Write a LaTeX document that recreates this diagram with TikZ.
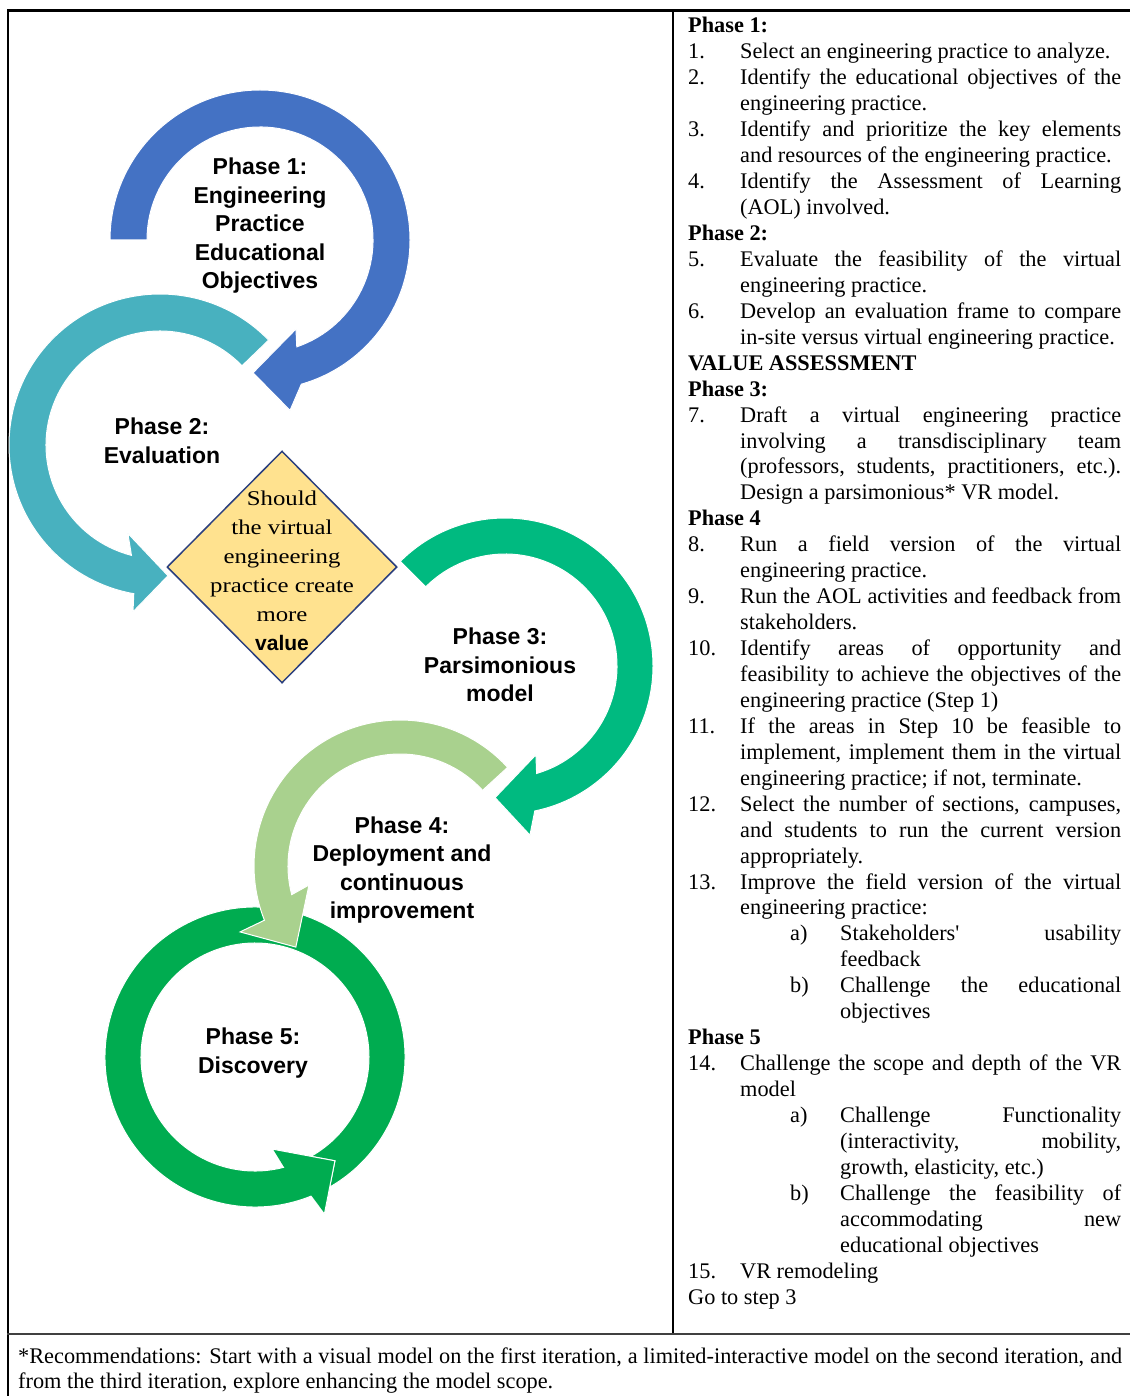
\documentclass[tikz,border=0pt]{standalone}
\usepackage{fontspec}
\setmainfont{Liberation Serif}
\newfontfamily\lblfont{Liberation Sans}
\newfontfamily\diafont[FakeStretch=1.18]{Liberation Serif}
\usetikzlibrary{shapes.geometric}
\definecolor{cBlue}{HTML}{4472C4}
\definecolor{cTeal}{HTML}{48B1BF}
\definecolor{cGreenM}{HTML}{00BA80}
\definecolor{cGreenL}{HTML}{A9D18E}
\definecolor{cGreenD}{HTML}{00AC50}
\definecolor{cDiaFill}{HTML}{FFE28F}
\definecolor{cDiaLine}{HTML}{2B3F7E}
\newcommand\stephead[1]{\par\noindent\textbf{#1}}
\newcommand\stepitem[2]{\par\hangindent=52pt\hangafter=1\noindent\makebox[52pt][l]{#1}#2}
\newcommand\stepsub[2]{\par\hangindent=152pt\hangafter=1\noindent\hspace*{102pt}\makebox[50pt][l]{#1}#2}
\tikzset{
  band/.style={fill=#1, draw=white, line width=1pt, line join=miter},
  phaselabel/.style={font=\lblfont\bfseries\fontsize{23}{28.5}\selectfont, align=center, inner sep=0pt},
  steptext/.style={anchor=base west, inner sep=0pt, text width=#1, align=justify,
    font=\fontsize{22.3}{25.94}\selectfont},
  frameline/.style={line width=#1, draw=black},
}
\begin{document}
\begin{tikzpicture}[x=1pt,y=1pt]
\useasboundingbox (0,0) rectangle (1130,-1396);
\fill[white] (0,0) rectangle (1130,-1396);

% frame
\draw[frameline=2.7pt] (7,-10.5) -- (1130,-10.5);
\draw[frameline=2pt] (8,-10) -- (8,-1396);
\draw[frameline=1.5pt] (673,-10) -- (673,-1334);
\draw[frameline=2pt, draw=black!75] (7,-1334) -- (1130,-1334);

% Phase 2 arrow (teal)
\begin{scope}[shift={(160,-445)}]
\path[band=cTeal] (44:151) arc[start angle=44, end angle=260, radius=151]
  -- (260.8:169) -- (273.5:131) -- (250:94) -- (255.5:114)
  arc[start angle=255.5, end angle=44, radius=114] -- cycle;
\end{scope}
% Phase 1 arrow (blue)
\begin{scope}[shift={(260,-240)}]
\path[band=cBlue] (180:150) arc[start angle=180, end angle=-74, radius=150]
  -- (-80:173) -- (-93:133) -- (-68:96) -- (-71:113)
  arc[start angle=-71, end angle=180, radius=113] -- cycle;
\end{scope}
% Phase 3 arrow (green)
\begin{scope}[shift={(505,-666)}]
\path[band=cGreenM] (135:148) arc[start angle=135, end angle=-78.4, radius=148]
  -- (-81.6:171) -- (-94.3:132) -- (-70.8:94) -- (-73.6:112)
  arc[start angle=-73.6, end angle=135, radius=112] -- cycle;
\end{scope}
% Phase 5 ring (dark green)
\begin{scope}[shift={(255,-1057)}]
\path[band=cGreenD] (-62:150) arc[start angle=-62, end angle=292.2, radius=150]
  -- (294:171) -- (307.6:131) -- (281.1:94) -- (284.8:114)
  arc[start angle=284.8, end angle=-62, radius=114] -- cycle;
\path[fill=cGreenD] (292.2:150) -- (294:171) -- (307.6:131) -- (281.1:94) -- (284.8:114) -- cycle;
\draw[white, line width=1pt, line join=miter] (294:171) -- (307.6:131) -- (281.1:94);
\end{scope}
% Phase 4 arrow (light green)
\begin{scope}[shift={(400,-866)}]
\path[band=cGreenL] (42.5:146) arc[start angle=42.5, end angle=201.8, radius=146]
  -- (202.4:173) -- (217.9:132) -- (191.8:93) -- (194.8:112)
  arc[start angle=194.8, end angle=42.5, radius=112] -- cycle;
\end{scope}

% decision diamond
\node[diamond, draw=cDiaLine, fill=cDiaFill, line width=1.5pt, minimum width=230pt,
  minimum height=232pt, inner sep=0pt] (dec) at (282,-567) {};
\node[font=\diafont\fontsize{21}{29}\selectfont, align=center, inner sep=0pt] (dtext) at (282,-571)
  {Should\\the virtual\\engineering\\practice create\\more\\{\lblfont\bfseries value}};

% phase labels
\node[phaselabel] (lab1) at (260,-226) {Phase 1:\\Engineering\\Practice\\Educational\\Objectives};
\node[phaselabel] (lab2) at (162,-441) {Phase 2:\\Evaluation};
\node[phaselabel] (lab3) at (500,-665) {Phase 3:\\Parsimonious\\model};
\node[phaselabel] (lab4) at (402,-870) {Phase 4:\\Deployment and\\continuous\\improvement};
\node[phaselabel] (lab5) at (253,-1053) {Phase 5:\\Discovery};

% steps column
\node[steptext=433pt] (steps) at (688,-33) {%
\parskip=0pt\tolerance=10000\hyphenpenalty=10000\exhyphenpenalty=10000%
\noindent\textbf{Phase 1:}
\stepitem{1.}{Select an engineering practice to analyze.}
\stepitem{2.}{Identify the educational objectives of the\linebreak engineering practice.}
\stepitem{3.}{Identify and prioritize the key elements\linebreak and resources of the engineering practice.}
\stepitem{4.}{Identify the Assessment of Learning\linebreak (AOL) involved.}
\stephead{Phase 2:}
\stepitem{5.}{Evaluate the feasibility of the virtual\linebreak engineering practice.}
\stepitem{6.}{Develop an evaluation frame to compare\linebreak in-site versus virtual engineering practice.}
\stephead{VALUE ASSESSMENT}
\stephead{Phase 3:}
\stepitem{7.}{Draft a virtual engineering practice\linebreak involving a transdisciplinary team\linebreak (professors, students, practitioners, etc.).\linebreak Design a parsimonious* VR model.}
\stephead{Phase 4}
\stepitem{8.}{Run a field version of the virtual\linebreak engineering practice.}
\stepitem{9.}{Run the AOL activities and feedback from\linebreak stakeholders.}
\stepitem{10.}{Identify areas of opportunity and\linebreak feasibility to achieve the objectives of the\linebreak engineering practice (Step 1)}
\stepitem{11.}{If the areas in Step 10 be feasible to\linebreak implement, implement them in the virtual\linebreak engineering practice; if not, terminate.}
\stepitem{12.}{Select the number of sections, campuses,\linebreak and students to run the current version\linebreak appropriately.}
\stepitem{13.}{Improve the field version of the virtual\linebreak engineering practice:}
\stepsub{a)}{Stakeholders\textquotesingle\ usability\linebreak feedback}
\stepsub{b)}{Challenge the educational\linebreak objectives}
\stephead{Phase 5}
\stepitem{14.}{Challenge the scope and depth of the VR\linebreak model}
\stepsub{a)}{Challenge Functionality\linebreak (interactivity, mobility,\linebreak growth, elasticity, etc.)}
\stepsub{b)}{Challenge the feasibility of\linebreak accommodating new\linebreak educational objectives}
\stepitem{15.}{VR remodeling}
\par\noindent Go to step 3\par};

% recommendation note
\node[steptext=1104pt] (note) at (18,-1363) {%
\parskip=0pt\tolerance=10000\hyphenpenalty=10000\exhyphenpenalty=10000\noindent
*Recommendations: Start with a visual model on the first iteration, a limited-interactive model on the second iteration, and\linebreak from the third iteration, explore enhancing the model scope.\par};
\end{tikzpicture}
\end{document}
